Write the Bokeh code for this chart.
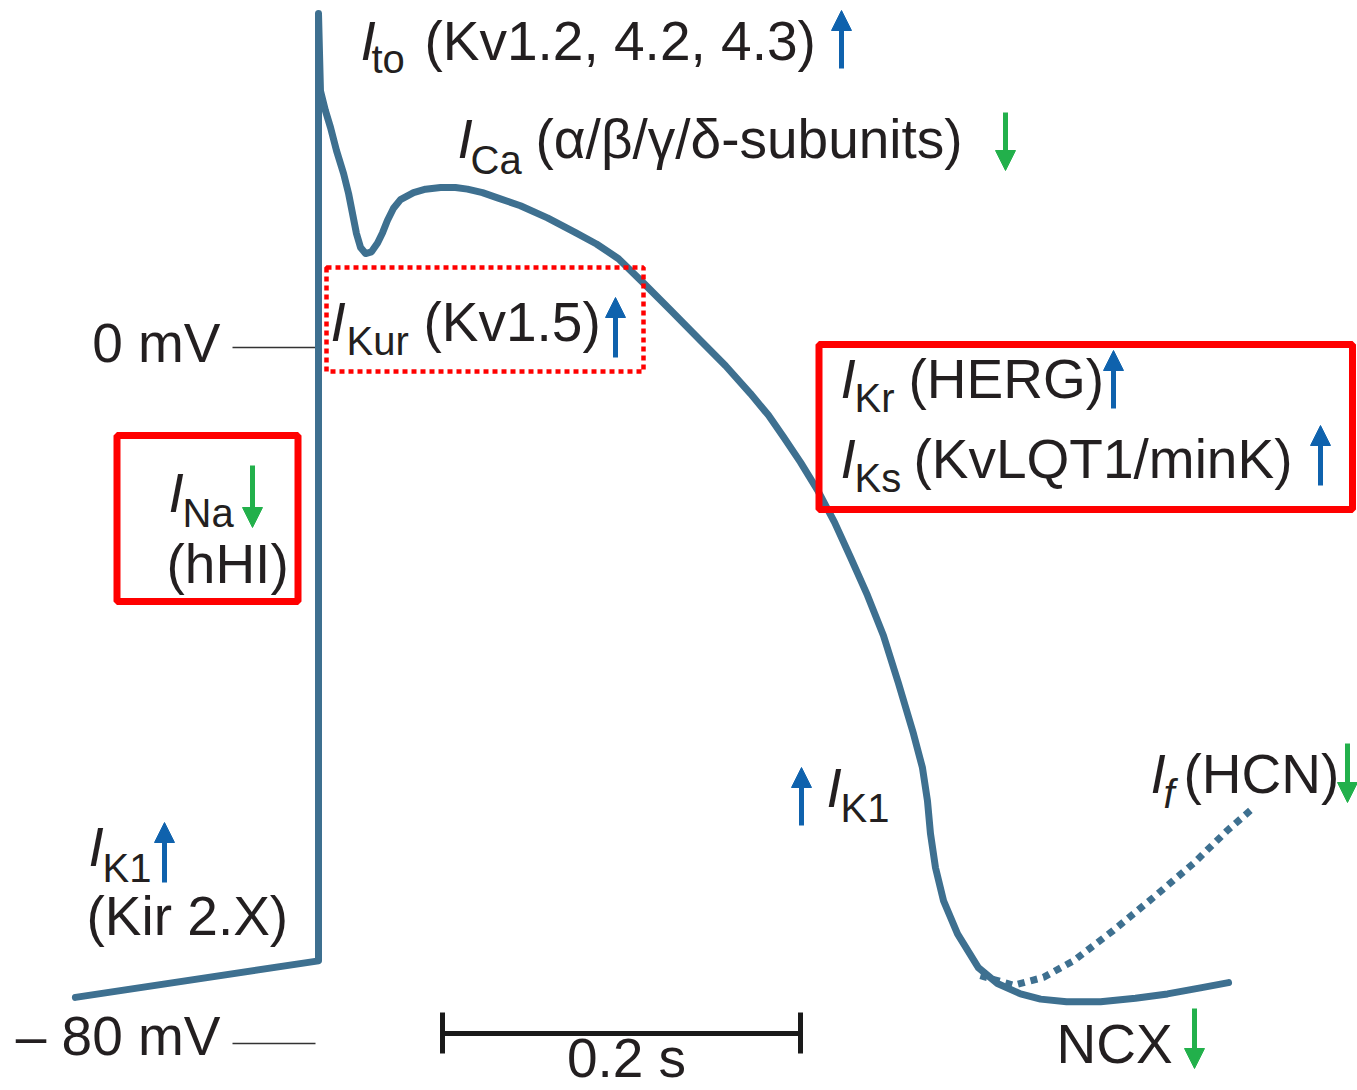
from bokeh.plotting import figure
from bokeh.models import Range1d, Arrow, NormalHead
from bokeh.core.properties import value
from bokeh.embed import file_html
from bokeh.resources import INLINE

# ---------------- data ----------------
# ventricular action potential (time in s from upstroke, membrane potential in mV)
ap_time_s = [-0.1358, 0.0, 0.0, 0.0011, 0.0039, 0.0067, 0.0101, 0.0140, 0.0168,
             0.0190, 0.0212, 0.0235, 0.0263, 0.0296, 0.0330, 0.0358, 0.0385,
             0.0419, 0.0458, 0.0531, 0.0598, 0.0682, 0.0765, 0.0832, 0.0916,
             0.1000, 0.1128, 0.1279, 0.1436, 0.1553, 0.1676, 0.1816, 0.1966, 0.2134,
             0.2274, 0.2413, 0.2514, 0.2598, 0.2693, 0.2788, 0.2883, 0.2972,
             0.3067, 0.3156, 0.3240, 0.3324, 0.3374, 0.3402, 0.3419, 0.3447,
             0.3492, 0.3570, 0.3687, 0.3793, 0.3922, 0.4034, 0.4179, 0.4369,
             0.4564, 0.4743, 0.4927, 0.5084]
ap_voltage_mv = [-74.7, -70.5, 38.4, 29.5, 27.2, 25.3, 22.6, 20.0, 17.7,
                 15.4, 13.1, 11.5, 10.8, 11.0, 12.0, 13.2, 14.6,
                 16.0, 17.0, 17.8, 18.2, 18.4, 18.4, 18.2, 17.8,
                 17.2, 16.3, 14.9, 13.2, 11.9, 10.2, 7.4, 4.3, 0.8,
                 -2.1, -5.3, -7.8, -10.3, -13.2, -16.4, -20.1, -24.1,
                 -28.5, -33.1, -38.6, -44.4, -48.3, -52.1, -55.9, -59.8,
                 -63.6, -67.4, -71.3, -73.1, -74.3, -74.9, -75.2, -75.2,
                 -74.8, -74.3, -73.6, -73.0]
# pacemaker (If) depolarisation branch, dotted
if_time_s = [0.3698, 0.3883, 0.4050, 0.4218, 0.4441, 0.4665, 0.4888, 0.5078, 0.5218]
if_voltage_mv = [-72.2, -73.3, -72.4, -70.5, -67.0, -63.2, -59.3, -55.5, -53.0]

ref_levels_mv = [0, -80]
ref_labels = ["0 mV", "\u2013 80 mV"]
scale_bar_s = 0.2
scale_bar_label = "0.2 s"

# ---------------- layout helpers (pixel -> data) ----------------
W, H = 1357, 1090
T0_PX, PX_PER_S = 318, 1790.0
V0_PX, PX_PER_MV = 347, 8.7


def X(px):
    return (px - T0_PX) / PX_PER_S


def Y(py):
    return (V0_PX - py) / PX_PER_MV


CURVE = "#3e7090"
BLUE = "#0f62ad"
GREEN = "#22b04b"
RED = "#ff0000"
INK = "#231f20"
FONT = value("Liberation Sans")

p = figure(width=W, height=H, output_backend="svg", toolbar_location=None,
           x_axis_type=None, y_axis_type=None, min_border=0,
           x_range=Range1d(X(0), X(W)), y_range=Range1d(Y(H), Y(0)),
           outline_line_color=None, background_fill_color="white",
           border_fill_color="white")
p.grid.visible = False

# reference level ticks
for lvl in ref_levels_mv:
    p.line([X(232), X(315)], [lvl, lvl], line_color="#333333", line_width=1.6)

# action potential
p.line(ap_time_s, ap_voltage_mv, line_color=CURVE, line_width=7,
       line_join="round", line_cap="round")
p.line(if_time_s, if_voltage_mv, line_color=CURVE, line_width=7,
       line_dash="7 6", line_cap="butt")

# scale bar
sb0 = X(442)
sb1 = sb0 + scale_bar_s
yb = Y(1033)
p.line([sb0, sb1], [yb, yb], line_color="#1a1a1a", line_width=5)
p.segment([sb0, sb1], [Y(1012), Y(1012)], [sb0, sb1], [Y(1053), Y(1053)],
          line_color="#1a1a1a", line_width=5)

# red boxes
p.quad(left=[X(116.5), X(818.5)], right=[X(297.5), X(1352)],
       top=[Y(435), Y(344)], bottom=[Y(601), Y(509)],
       fill_alpha=0, line_color=RED, line_width=7)
p.quad(left=[X(326)], right=[X(643)], top=[Y(267)], bottom=[Y(371)],
       fill_alpha=0, line_color=RED, line_width=4.5, line_dash="5 4")

# texts: (text, x_px, baseline_px, size_px, style, align)
texts = [
    ("I", 360, 60, 55, "italic", "left"), ("to", 371, 73, 40, "normal", "left"),
    ("(Kv1.2, 4.2, 4.3)", 424, 60, 55, "normal", "left"),
    ("I", 457, 158, 55, "italic", "left"), ("Ca", 470, 174, 40, "normal", "left"),
    ("(\u03b1/\u03b2/\u03b3/\u03b4-subunits)", 535, 158, 55, "normal", "left"),
    ("I", 330, 341, 55, "italic", "left"), ("Kur", 346, 355, 40, "normal", "left"),
    ("(Kv1.5)", 423, 341, 55, "normal", "left"),
    ("I", 168, 512, 55, "italic", "left"), ("Na", 182, 527, 40, "normal", "left"),
    ("(hHI)", 166, 583, 55, "normal", "left"),
    ("I", 840, 398, 55, "italic", "left"), ("Kr", 854, 412, 40, "normal", "left"),
    ("(HERG)", 908, 398, 55, "normal", "left"),
    ("I", 840, 478, 55, "italic", "left"), ("Ks", 854, 492, 40, "normal", "left"),
    ("(KvLQT1/minK)", 913, 478, 55, "normal", "left"),
    ("I", 826, 807, 55, "italic", "left"), ("K1", 840, 822, 40, "normal", "left"),
    ("I", 1150, 793, 55, "italic", "left"), ("f", 1163, 808, 40, "italic", "left"),
    ("(HCN)", 1183, 793, 55, "normal", "left"),
    ("NCX", 1056, 1063, 55, "normal", "left"),
    ("I", 88, 866, 55, "italic", "left"), ("K1", 102, 882, 40, "normal", "left"),
    ("(Kir 2.X)", 86, 935, 55, "normal", "left"),
    (ref_labels[0], 220, 362, 55, "normal", "right"),
    (ref_labels[1], 220, 1055, 55, "normal", "right"),
    (scale_bar_label, 626, 1077, 55, "normal", "center"),
]
for t, xp, yp, sz, st, al in texts:
    yp_adj = yp - 0.36 * sz   # compensate renderer's baseline offset
    p.text(x=[X(xp)], y=[Y(yp_adj)], text=[t], text_font=FONT,
           text_font_size=f"{sz}px", text_font_style=st, text_color=INK,
           text_align=al, text_baseline="alphabetic")

# up / down arrows: (x_px, tail_px, tip_px, colour)
arrows = [
    (841, 68, 10, BLUE), (615, 357, 297, BLUE), (1113, 408, 350, BLUE),
    (1320, 485, 425, BLUE), (801, 825, 767, BLUE), (164, 882, 822, BLUE),
    (1005, 112, 170, GREEN), (252, 465, 527, GREEN), (1347, 743, 802, GREEN),
    (1194, 1008, 1068, GREEN),
]
for xp, tail, tip, c in arrows:
    d = 12 if tip > tail else -12
    p.segment([X(xp)], [Y(tail)], [X(xp)], [Y(tip - d)], line_color=c, line_width=5)
    p.add_layout(Arrow(end=NormalHead(size=20, fill_color=c, line_color=c, line_width=1),
                       x_start=X(xp), y_start=Y(tail), x_end=X(xp), y_end=Y(tip),
                       line_alpha=0, line_width=1))

open("out.html", "w").write(file_html(p, INLINE))
